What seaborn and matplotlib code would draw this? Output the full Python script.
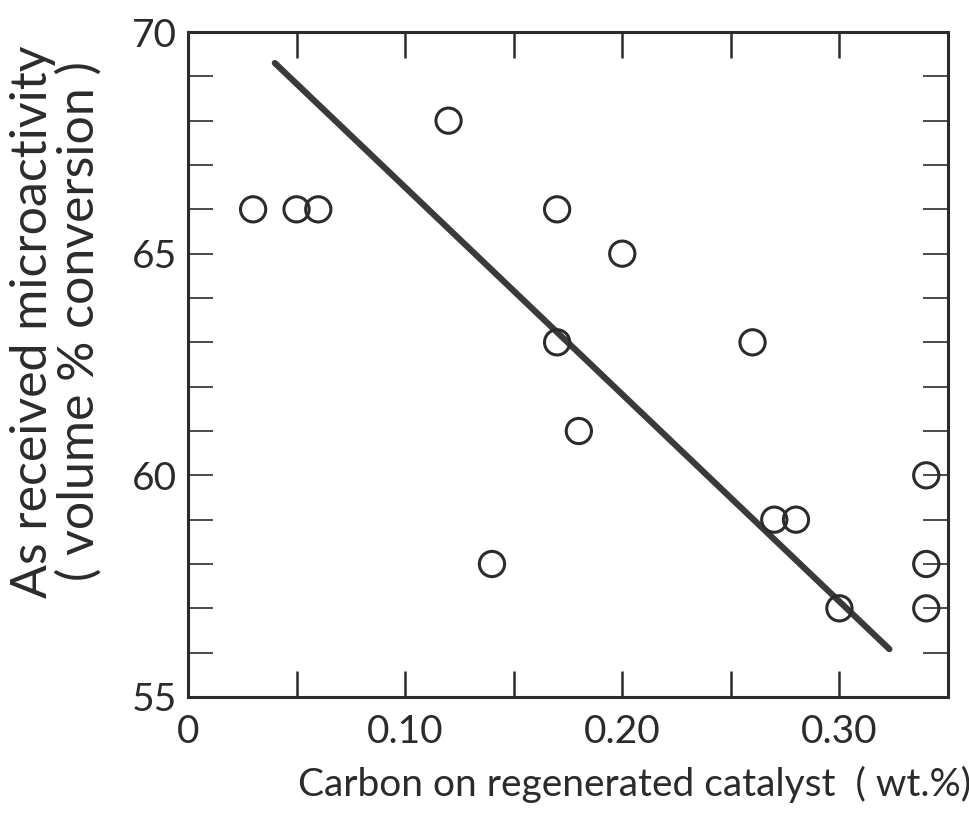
import matplotlib
matplotlib.use('Agg')
import matplotlib.pyplot as plt
import numpy as np
import pandas as pd
import seaborn as sns

# --- data ---
carbon = [0.03, 0.05, 0.06, 0.12, 0.14, 0.17, 0.17, 0.18, 0.20, 0.26, 0.27, 0.28, 0.30, 0.34, 0.34, 0.34]
activity = [66, 66, 66, 68, 58, 66, 63, 61, 65, 63, 59, 59, 57, 60, 58, 57]

# fitted line end points
fit_x = [0.04, 0.323]
fit_y = [69.3, 56.08]

x_ticks = [0, 0.05, 0.10, 0.15, 0.20, 0.25, 0.30]
x_labels = ["0", "", "0.10", "", "0.20", "", "0.30"]
y_ticks = list(range(55, 71))
y_labels = [str(v) if v % 5 == 0 else "" for v in y_ticks]

df = pd.DataFrame({"carbon": carbon, "activity": activity})
fit = pd.DataFrame({"x": fit_x, "y": fit_y})

sns.set_style("ticks")
plt.rcParams['font.family'] = ['Lato', 'DejaVu Sans']
ink = "#2b2b2b"

fig = plt.figure(figsize=(9.7, 8.27), dpi=100)
ax = fig.add_axes([0.1938, 0.1572, 0.7835, 0.8041])

sns.lineplot(data=fit, x="x", y="y", ax=ax, color="#3a3a3a", linewidth=4.5,
             solid_capstyle="round", zorder=2)
sns.scatterplot(data=df, x="carbon", y="activity", ax=ax, s=330, marker="o",
                facecolor="none", edgecolor=ink, linewidth=2.2, zorder=3)

ax.set_xlim(0, 0.35)
ax.set_ylim(55, 70)
ax.set_xticks(x_ticks)
ax.set_xticklabels(x_labels)
ax.set_yticks(y_ticks)
ax.set_yticklabels(y_labels)

ax.tick_params(axis="x", direction="in", length=19, width=1.8, top=True,
               labelsize=28, pad=12, colors=ink)
ax.tick_params(axis="y", direction="in", length=18, width=1.2, right=True,
               labelsize=28, pad=8, colors=ink)
for sp in ax.spines.values():
    sp.set_linewidth(2.2)
    sp.set_color(ink)

ax.set_xlabel("Carbon on regenerated catalyst  ( wt.%)", fontsize=28, color=ink)
ax.xaxis.set_label_coords(0.587, -0.103)
ax.set_ylabel("As received microactivity\n( volume % conversion )", fontsize=36,
              color=ink, linespacing=0.98)
ax.yaxis.set_label_coords(-0.113, 0.565)

fig.savefig("out.png", dpi=100)
